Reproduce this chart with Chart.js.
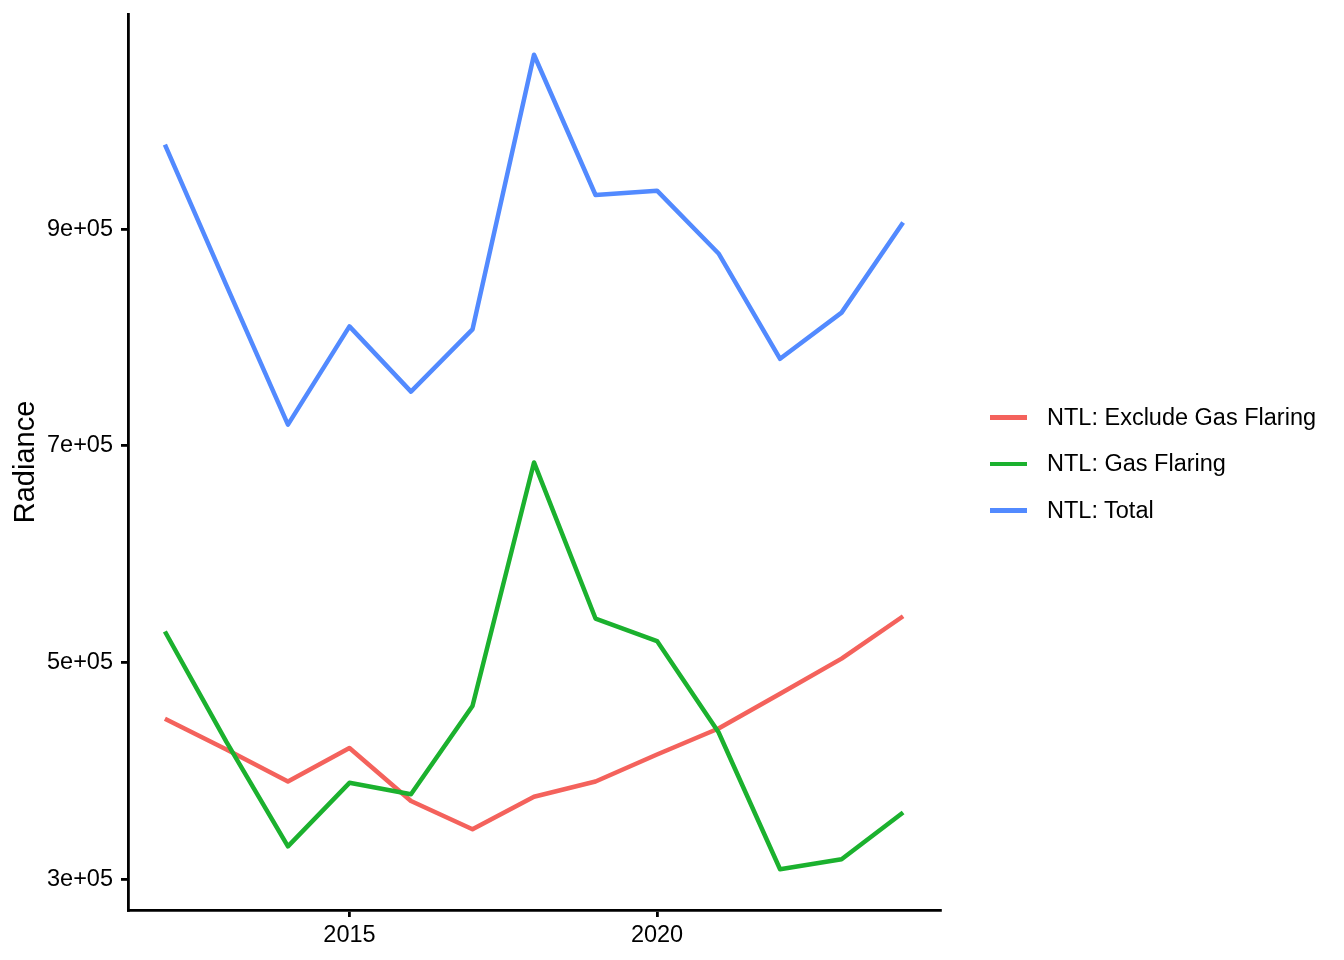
<!DOCTYPE html>
<html>
<head>
<meta charset="utf-8">
<script src="https://cdn.jsdelivr.net/npm/chart.js@4.4.1/dist/chart.umd.min.js"></script>
<style>
  html, body { margin: 0; padding: 0; background: #fff; }
  #wrap { position: relative; width: 1344px; height: 960px; }
  #legend { position: absolute; left: 990px; top: 394px; font-family: "Liberation Sans", Arial, sans-serif; font-size: 23.5px; color: #000; }
  .item { display: flex; align-items: center; height: 46.5px; }
  .swatch { width: 37px; height: 4.5px; margin-right: 20px; }
</style>
</head>
<body>
<div id="wrap">
  <canvas id="chart" width="1344" height="960"></canvas>
  <div id="legend"></div>
</div>
<script>
const years = [2012, 2013, 2014, 2015, 2016, 2017, 2018, 2019, 2020, 2021, 2022, 2023, 2024];
const ntlExclude = [448000, 419500, 390000, 421000, 372000, 346000, 376000, 390000, 415000, 439000, 471000, 503500, 542600];
const ntlFlaring = [528500, 426600, 330200, 388800, 378300, 459700, 684600, 540500, 519700, 435500, 309000, 318300, 361400];
const ntlTotal = [978000, 848000, 719500, 810200, 750000, 807400, 1061000, 931500, 935500, 877500, 780300, 822900, 906200];

const seriesNames = ['NTL: Exclude Gas Flaring', 'NTL: Gas Flaring', 'NTL: Total'];
const seriesColors = ['#F4625C', '#1BB12E', '#528AFF'];
const seriesValues = [ntlExclude, ntlFlaring, ntlTotal];

const yTicks = [300000, 500000, 700000, 900000];
const xTicks = [2015, 2020];

// ggplot style 5% padding on both ends
function expand(vals) {
    let lo = Math.min(...vals), hi = Math.max(...vals);
    let d = (hi - lo) * 0.05;
    return [lo - d, hi + d];
}

function sci(v) {
    let e = Math.floor(Math.log10(v));
    let m = Math.round(v / Math.pow(10, e) * 100) / 100;
    return m + 'e+' + String(e).padStart(2, '0');
}

const xRange = expand(years);
const yRange = expand([].concat(ntlExclude, ntlFlaring, ntlTotal));

Chart.defaults.font.family = '"Liberation Sans", Arial, sans-serif';
Chart.defaults.color = '#000';

let datasets = seriesValues.map((vals, i) => ({
    label: seriesNames[i],
    data: vals.map((v, j) => ({x: years[j], y: v})),
    borderColor: seriesColors[i],
    backgroundColor: seriesColors[i],
    borderWidth: 4.5,
    borderJoinStyle: 'round',
    borderCapStyle: 'butt',
    pointRadius: 0,
    tension: 0,
    fill: false,
    order: 3 - i
}));

let axisGrid = { drawOnChartArea: false, drawTicks: true, tickLength: 7, color: '#000', lineWidth: 2.8 };
let axisBorder = { display: true, color: '#000', width: 2.8 };

new Chart(document.getElementById('chart').getContext('2d'), {
    type: 'line',
    data: { datasets: datasets },
    options: {
        responsive: false,
        devicePixelRatio: 1,
        animation: false,
        layout: { padding: { top: 14, right: 404, left: 0, bottom: 0 } },
        plugins: { legend: { display: false }, tooltip: { enabled: false } },
        scales: {
            x: {
                type: 'linear',
                min: xRange[0],
                max: xRange[1],
                afterBuildTicks: s => { s.ticks = xTicks.map(v => ({value: v})); },
                afterFit: s => { s.height = 50; s.paddingLeft = 0; s.paddingRight = 0; },
                grid: axisGrid,
                border: axisBorder,
                ticks: { color: '#000', padding: 4, font: {size: 23.5}, maxRotation: 0, callback: v => String(v) }
            },
            y: {
                type: 'linear',
                min: yRange[0],
                max: yRange[1],
                afterBuildTicks: s => { s.ticks = yTicks.map(v => ({value: v})); },
                afterFit: s => { s.width = 128; s.paddingTop = 0; s.paddingBottom = 0; },
                grid: axisGrid,
                border: axisBorder,
                ticks: { color: '#000', padding: 8, font: {size: 23.5}, callback: v => sci(v) },
                title: { display: true, text: 'Radiance', color: '#000', font: {size: 29}, padding: {top: 9, bottom: 0} }
            }
        }
    }
});

// legend on the right, built from the same arrays
let legend = document.getElementById('legend');
seriesNames.forEach((name, i) => {
    let item = document.createElement('div');
    item.className = 'item';
    let sw = document.createElement('span');
    sw.className = 'swatch';
    sw.style.background = seriesColors[i];
    let label = document.createElement('span');
    label.textContent = name;
    item.appendChild(sw);
    item.appendChild(label);
    legend.appendChild(item);
});
</script>
</body>
</html>
